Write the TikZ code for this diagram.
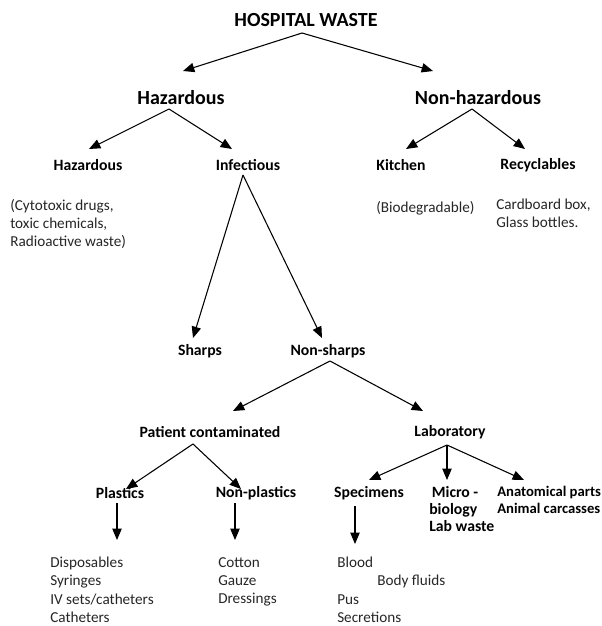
\documentclass[tikz,border=0pt]{standalone}
\usepackage{fontspec}
\setmainfont{Carlito}
\usetikzlibrary{arrows.meta}
\begin{document}
\begin{tikzpicture}[x=0.75pt,y=-0.75pt,
  lbl/.style={inner sep=0pt,font=\bfseries\fontsize{11.8}{12.75}\selectfont},
  big/.style={inner sep=0pt,font=\bfseries\fontsize{15}{16}\selectfont},
  txt/.style={inner sep=0pt,anchor=west,align=left,text=black!85,font=\fontsize{11.4}{13.6}\selectfont},
  arr/.style={line width=0.8pt,-{Triangle[length=8.5pt,width=7pt]}}]
\useasboundingbox (0,0) rectangle (602,626);
% nodes
\node[big] (hw) at (306,20) {HOSPITAL WASTE};
\node[big] (hz) at (181,98) {Hazardous};
\node[big] (nh) at (478,98) {Non-hazardous};
\node[lbl] (hz2) at (88,165) {Hazardous};
\node[lbl] (inf) at (248,165) {Infectious};
\node[lbl] (kit) at (401,165) {Kitchen};
\node[lbl] (rec) at (538,165) {Recyclables};
\node[txt,anchor=north west] (cyt) at (10,199) {(Cytotoxic drugs,\\toxic chemicals,\\Radioactive waste)};
\node[txt] (bio) at (376,208) {(Biodegradable)};
\node[txt,anchor=north west] (card) at (496,199) {Cardboard box,\\Glass bottles.};
\node[lbl] (sh) at (200,351) {Sharps};
\node[lbl] (ns) at (328,351) {Non-sharps};
\node[lbl] (pc) at (210,432) {Patient contaminated};
\node[lbl] (lab) at (450,432) {Laboratory};
\node[lbl] (pl) at (120,493) {Plastics};
\node[lbl] (npl) at (256,493) {Non-plastics};
\node[lbl] (spe) at (369,493) {Specimens};
\node[lbl,anchor=north west,align=left] (mic) at (429,486) {\,Micro -\\biology\\Lab waste};
\node[lbl,anchor=north west,align=left,font=\bfseries\fontsize{11}{12.75}\selectfont] (ana) at (497,486) {Anatomical parts\\Animal\ carcasses};
\node[txt,anchor=north west] (dis) at (50,557) {Disposables\\Syringes\\IV sets/catheters\\Catheters};
\node[txt,anchor=north west] (cot) at (218,557) {Cotton\\Gauze\\Dressings};
\node[txt,anchor=north west] (blo) at (337,557) {Blood\\\hspace*{30pt}Body fluids\\Pus\\Secretions};
% connector coordinates
\coordinate (hwS) at (302,33);
\coordinate (hzT) at (183,71);
\coordinate (nhT) at (433,71);
\coordinate (hzS) at (169,109);
\coordinate (hz2T) at (89,149);
\coordinate (infT) at (232,149);
\coordinate (nhS) at (472,109);
\coordinate (kitT) at (406,149);
\coordinate (recT) at (525,149);
\coordinate (infS) at (243,175);
\coordinate (shT) at (193,338);
\coordinate (nsT) at (322,338);
\coordinate (nsS) at (330,361);
\coordinate (pcT) at (233,411);
\coordinate (labT) at (423,411);
\coordinate (pcS) at (193,444);
\coordinate (plT) at (126,489);
\coordinate (nplT) at (241,489);
\coordinate (labS) at (447,445);
\coordinate (speT) at (369,480);
\coordinate (micT) at (447,480);
\coordinate (anaT) at (524,480);
\coordinate (plS) at (117,503);
\coordinate (plT2) at (117,540);
\coordinate (nplS) at (235,503);
\coordinate (nplT2) at (235,540);
\coordinate (speS) at (355,506);
\coordinate (speT2) at (355,544);
% connectors
\draw[arr] (hwS) -- (hzT);
\draw[arr] (hwS) -- (nhT);
\draw[arr] (hzS) -- (hz2T);
\draw[arr] (hzS) -- (infT);
\draw[arr] (nhS) -- (kitT);
\draw[arr] (nhS) -- (recT);
\draw[arr] (infS) -- (shT);
\draw[arr] (infS) -- (nsT);
\draw[arr] (nsS) -- (pcT);
\draw[arr] (nsS) -- (labT);
\draw[arr] (pcS) -- (plT);
\draw[arr] (pcS) -- (nplT);
\draw[arr] (labS) -- (speT);
\draw[arr] (labS) -- (micT);
\draw[arr] (labS) -- (anaT);
\draw[arr] (plS) -- (plT2);
\draw[arr] (nplS) -- (nplT2);
\draw[arr] (speS) -- (speT2);
\end{tikzpicture}
\end{document}
